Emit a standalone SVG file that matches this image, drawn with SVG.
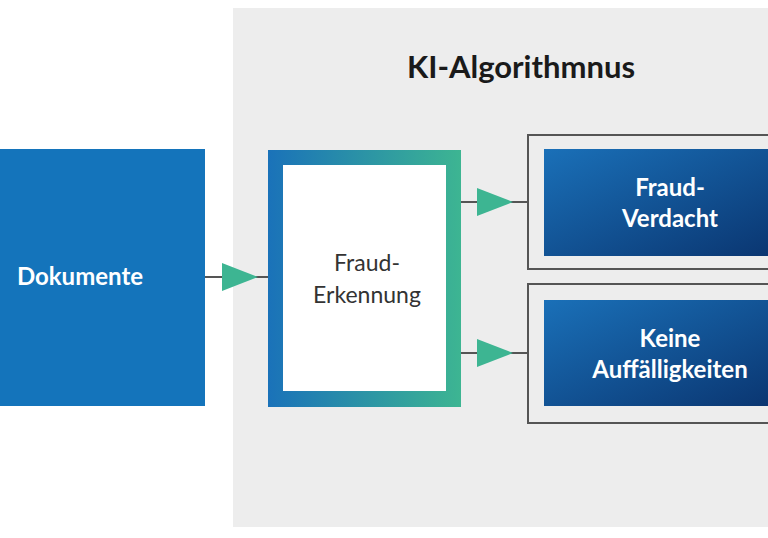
<svg xmlns="http://www.w3.org/2000/svg" width="768" height="538" viewBox="0 0 768 538">
<defs>
<linearGradient id="gFrame" x1="0" y1="0" x2="1" y2="0">
<stop offset="0" stop-color="#1a72b9"/>
<stop offset="1" stop-color="#3db592"/>
</linearGradient>
<linearGradient id="gBlue" x1="0" y1="0" x2="1" y2="1">
<stop offset="0" stop-color="#1a70b8"/>
<stop offset="1" stop-color="#0a3570"/>
</linearGradient>
<style>
.panel{fill:#ededed}
.outer{fill:none;stroke:#555;stroke-width:2}
.conn{stroke:#555;stroke-width:2;fill:none}
.tri{fill:#3db592}
.wtxt{font-family:Lato,"Open Sans",sans-serif;font-weight:bold;fill:#fff;text-anchor:middle}
.dtxt{font-family:Lato,"Open Sans",sans-serif;fill:#333;text-anchor:middle}
</style>
</defs>
<rect width="768" height="538" fill="#fff"/>
<rect class="panel" x="233" y="8" width="540" height="519"/>
<text x="521" y="78" font-family="Lato,'Open Sans',sans-serif" font-weight="bold" font-size="31" fill="#1a1a1a" text-anchor="middle">KI-Algorithmnus</text>

<g id="connectors">
<line class="conn" x1="205" y1="277" x2="268" y2="277"/>
<path class="tri" d="M222,263 L258,277 L222,291 Z"/>
<line class="conn" x1="461" y1="202" x2="528" y2="202"/>
<path class="tri" d="M477,188 L513,202 L477,216 Z"/>
<line class="conn" x1="461" y1="353" x2="528" y2="353"/>
<path class="tri" d="M477,339 L513,353 L477,367 Z"/>
</g>

<g id="dokumente">
<rect x="0" y="149" width="205" height="257" fill="#1474bb"/>
<text class="wtxt" x="80" y="285" font-size="24">Dokumente</text>
</g>

<g id="fraud-erkennung">
<rect x="268" y="150" width="193" height="257" fill="url(#gFrame)"/>
<rect x="283" y="165" width="163" height="226" fill="#fff"/>
<text class="dtxt" x="367" y="271" font-size="23">Fraud-</text>
<text class="dtxt" x="367" y="303" font-size="23">Erkennung</text>
</g>

<g id="fraud-verdacht">
<rect class="outer" x="528" y="135" width="250" height="134"/>
<rect x="544" y="149" width="234" height="107" fill="url(#gBlue)"/>
<text class="wtxt" x="670" y="196" font-size="24">Fraud-</text>
<text class="wtxt" x="670" y="227" font-size="24">Verdacht</text>
</g>

<g id="keine-auffaelligkeiten">
<rect class="outer" x="528" y="284" width="250" height="139"/>
<rect x="544" y="300" width="234" height="106" fill="url(#gBlue)"/>
<text class="wtxt" x="670" y="347" font-size="24">Keine</text>
<text class="wtxt" x="670" y="378" font-size="24">Auffälligkeiten</text>
</g>
</svg>
